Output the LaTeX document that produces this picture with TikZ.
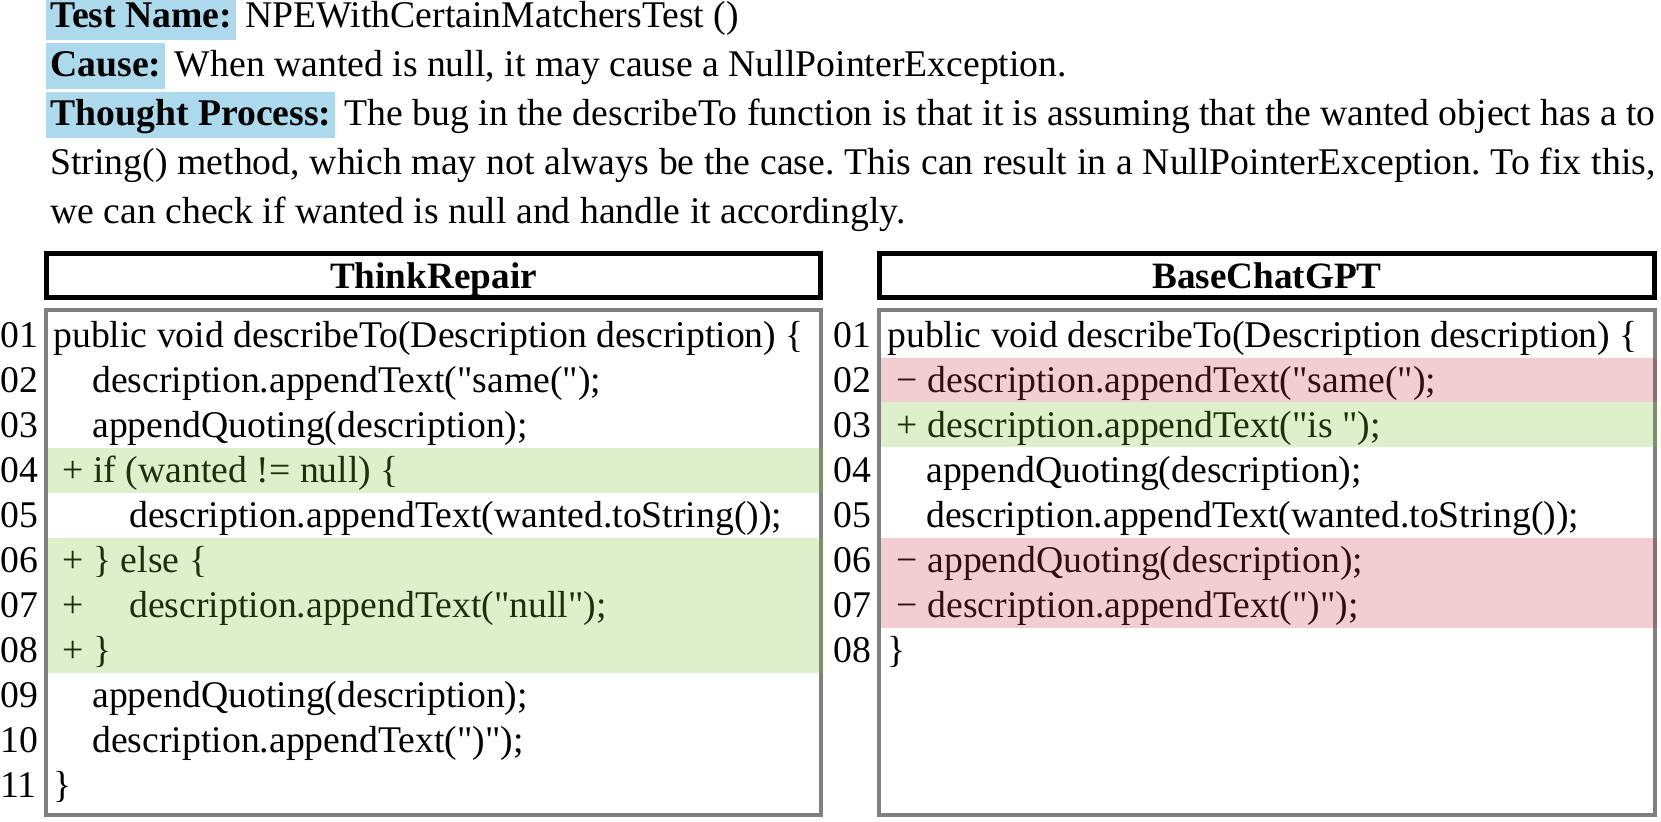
\documentclass[tikz,border=0pt]{standalone}
\usepackage{fontspec}
\setmainfont{Liberation Serif}
\newfontfamily\codefont{Liberation Serif}
\usepackage{xcolor}

\definecolor{hlblue}{RGB}{172,217,236}
\definecolor{addgreen}{RGB}{123,191,51}
\definecolor{delred}{RGB}{203,59,75}
\definecolor{boxgray}{RGB}{128,128,128}

\newcommand{\hlbox}[1]{\hspace*{-2pt}{\setlength{\fboxsep}{2pt}\colorbox{hlblue}{\rule[-4.5pt]{0pt}{19pt}\textbf{#1}}}}

\tikzset{
  txt/.style={anchor=base west, inner sep=0pt, font=\fontsize{18.85}{22}\selectfont\frenchspacing},
  code/.style={txt, font=\fontsize{18.85}{22}\selectfont\codefont},
  hd/.style={anchor=base, inner sep=0pt, font=\fontsize{18.6}{22}\selectfont\bfseries},
  headbox/.style={draw=black, line width=2.5pt},
  panel/.style={draw=boxgray, line width=2pt},
  addline/.style={fill=addgreen, fill opacity=0.25},
  delline/.style={fill=delred, fill opacity=0.25}
}

\begin{document}
\begin{tikzpicture}[x=0.5pt,y=-0.5pt]
\clip (0,0) rectangle (1661,821);

\node[txt] (tname) at (50,27) {\hlbox{Test Name:} NPEWithCertainMatchersTest ()};
\node[txt] (cause) at (50,76) {\hlbox{Cause:} When wanted is null, it may cause a NullPointerException.};
\node[txt] (tpa) at (50,125) {\makebox[802.5pt][s]{\hlbox{Thought Process:} The bug in the describeTo function is that it is assuming that the wanted object has a to}};
\node[txt] (tpb) at (50,174.5) {\makebox[802.5pt][s]{String() method, which may not always be the case. This can result in a NullPointerException. To fix this,}};
\node[txt] (tpc) at (50,223.5) {we can check if wanted is null and handle it accordingly.};

\draw[headbox] (46.5,253.5) rectangle (820.5,297.5);
\node[hd] (trtitle) at (433.5,288) {ThinkRepair};
\draw[headbox] (879.5,253.5) rectangle (1654.5,297.5);
\node[hd] (bctitle) at (1267,288) {BaseChatGPT};

\draw[panel] (46,310) rectangle (821,815);
\draw[panel] (879,310) rectangle (1655,815);

\node[code] (la1) at (0,347) {01};
\node[code] (la2) at (0,392) {02};
\node[code] (la3) at (0,437) {03};
\node[code] (la4) at (0,482) {04};
\node[code] (la5) at (0,527) {05};
\node[code] (la6) at (0,572) {06};
\node[code] (la7) at (0,617) {07};
\node[code] (la8) at (0,662) {08};
\node[code] (la9) at (0,707) {09};
\node[code] (la10) at (0,752) {10};
\node[code] (la11) at (0,797) {11};

\node[code] (ca1) at (53,347) {public void describeTo(Description description) \{};
\node[code] (ca2) at (92,392) {description.appendText("same(");};
\node[code] (ca3) at (92,437) {appendQuoting(description);};
\node[code] (ca4) at (53,482) {\hspace{.25em}+ if (wanted != null) \{};
\node[code] (ca5) at (129,527) {description.appendText(wanted.toString());};
\node[code] (ca6) at (53,572) {\hspace{.25em}+ \} else \{};
\node[code] (ca7) at (53,617) {\makebox[38pt][l]{\hspace{.25em}+}description.appendText("null");};
\node[code] (ca8) at (53,662) {\hspace{.25em}+ \}};
\node[code] (ca9) at (92,707) {appendQuoting(description);};
\node[code] (ca10) at (92,752) {description.appendText(")");};
\node[code] (ca11) at (53,797) {\}};

\node[code] (lb1) at (833,347) {01};
\node[code] (lb2) at (833,392) {02};
\node[code] (lb3) at (833,437) {03};
\node[code] (lb4) at (833,482) {04};
\node[code] (lb5) at (833,527) {05};
\node[code] (lb6) at (833,572) {06};
\node[code] (lb7) at (833,617) {07};
\node[code] (lb8) at (833,662) {08};

\node[code] (cb1) at (887,347) {public void describeTo(Description description) \{};
\node[code] (cb2) at (887,392) {\hspace{.25em}− description.appendText("same(");};
\node[code] (cb3) at (887,437) {\hspace{.25em}+ description.appendText("is ");};
\node[code] (cb4) at (926,482) {appendQuoting(description);};
\node[code] (cb5) at (926,527) {description.appendText(wanted.toString());};
\node[code] (cb6) at (887,572) {\hspace{.25em}− appendQuoting(description);};
\node[code] (cb7) at (887,617) {\hspace{.25em}− description.appendText(")");};
\node[code] (cb8) at (887,662) {\}};

\fill[addline] (48,448) rectangle (823,493);
\fill[addline] (48,538) rectangle (823,673);
\fill[delline] (881,358) rectangle (1657,402);
\fill[addline] (881,402) rectangle (1657,447);
\fill[delline] (881,538) rectangle (1657,628);
\end{tikzpicture}
\end{document}
